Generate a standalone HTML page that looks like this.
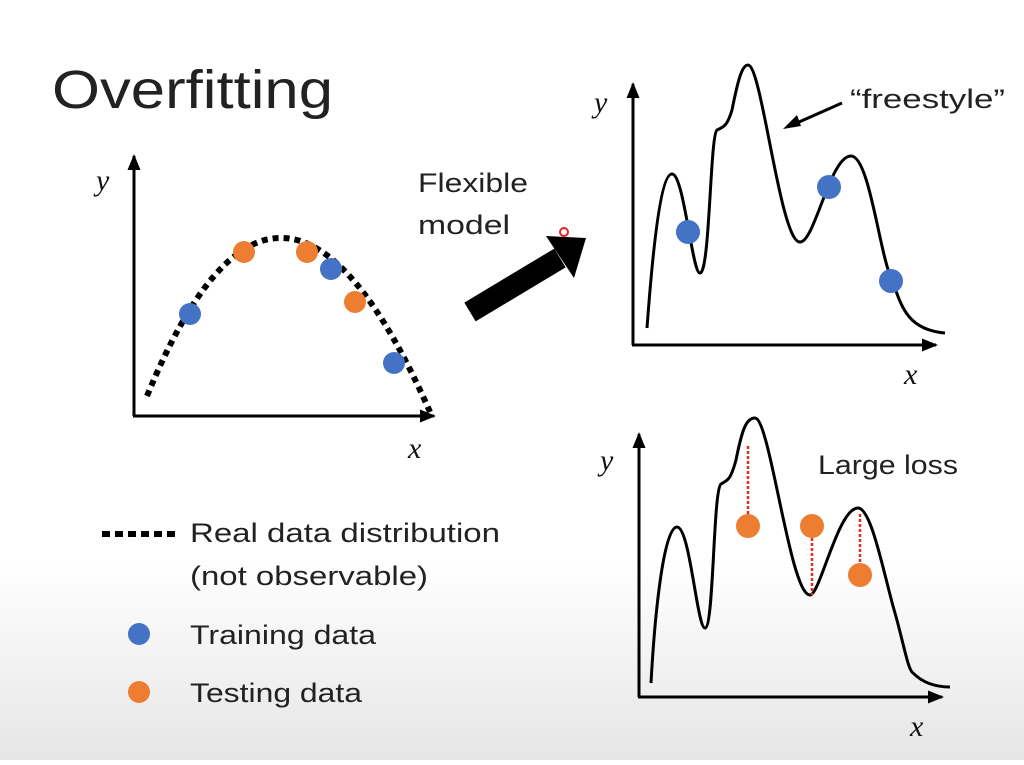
<!DOCTYPE html>
<html><head><style>
body{margin:0;width:1024px;height:760px;overflow:hidden;background:linear-gradient(#fff 0,#fff 560px,#e6e6e6 760px);font-family:"Liberation Sans",sans-serif}
</style></head><body>
<svg width="1024" height="760" viewBox="0 0 1024 760">
<defs><marker id="a" markerUnits="userSpaceOnUse" markerWidth="16" markerHeight="13" refX="14" refY="6.5" orient="auto"><path d="M0,0 L16,6.5 L0,13 z" fill="#000"/></marker></defs>
<text x="52" y="108" font-size="54" fill="#222" textLength="281" lengthAdjust="spacingAndGlyphs">Overfitting</text>
<g stroke="#000" stroke-width="3" fill="none">
<line x1="134" y1="416" x2="134" y2="156" marker-end="url(#a)"/>
<line x1="133" y1="416" x2="434" y2="416" marker-end="url(#a)"/>
<path d="M147,396 Q280,72 430,412" stroke-width="6" stroke-dasharray="6,5"/>
<line x1="633" y1="345" x2="633" y2="84" marker-end="url(#a)"/>
<line x1="632" y1="345" x2="936" y2="345" marker-end="url(#a)"/>
<path d="M647,328 C652,260 660,174 672,174 C684,174 692,273 700,273 C710,273 710,135 717,130 C723,127 727,127 732,110 C738,80 742,65 748,65 C762,65 780,242 800,242 C815,242 830,156 851,156 C870,156 880,260 893,282 C902,310 910,330 945,333"/>
<line x1="639" y1="697" x2="639" y2="434" marker-end="url(#a)"/>
<line x1="638" y1="697" x2="942" y2="697" marker-end="url(#a)"/>
<path d="M651,683 C655,610 664,527 677,527 C690,527 697,628 705,628 C714,628 713,490 721,484 C727,480 730,482 736,460 C742,430 746,418 755,418 C770,418 790,595 810,595 C820,595 838,508 858,508 C872,508 885,580 895,613 C904,645 908,670 913,673 C925,685 940,687 950,687"/>
<line x1="470" y1="312" x2="560" y2="258" stroke-width="22"/>
<line x1="790" y1="126" x2="842" y2="103" stroke-width="3"/>
</g>
<path d="M546,236 L586,238 L574,278 z" fill="#000"/>
<path d="M783,129 L797,115 L801,126 z" fill="#000"/>
<circle cx="564" cy="232" r="4" fill="none" stroke="#e22" stroke-width="2"/>
<g stroke="#e03020" stroke-width="2.5" stroke-dasharray="3,2">
<line x1="748" y1="446" x2="748" y2="514"/><line x1="812" y1="538" x2="812" y2="595"/><line x1="860" y1="514" x2="860" y2="563"/>
</g>
<g fill="#4472c4"><circle cx="190" cy="314" r="11"/><circle cx="331" cy="269" r="11"/><circle cx="394" cy="363" r="11"/>
<circle cx="688" cy="232" r="12"/><circle cx="829" cy="187" r="12"/><circle cx="891" cy="281" r="12"/><circle cx="139" cy="634" r="11"/></g>
<g fill="#ed7d31"><circle cx="244" cy="252" r="11"/><circle cx="307" cy="252" r="11"/><circle cx="355" cy="302" r="11"/>
<circle cx="748" cy="526" r="12"/><circle cx="812" cy="526" r="12"/><circle cx="860" cy="575" r="12"/><circle cx="139" cy="692" r="11"/></g>
<line x1="102" y1="534" x2="176" y2="534" stroke="#000" stroke-width="6" stroke-dasharray="8,5"/>
<g font-family="Liberation Serif,serif" font-style="italic" font-size="30" fill="#111">
<text x="96" y="190">y</text><text x="408" y="458">x</text><text x="594" y="112">y</text><text x="904" y="384">x</text><text x="600" y="470">y</text><text x="910" y="736">x</text></g>
<g font-size="27" fill="#222">
<text x="418" y="192" textLength="110" lengthAdjust="spacingAndGlyphs">Flexible</text><text x="418" y="234" textLength="92" lengthAdjust="spacingAndGlyphs">model</text>
<text x="850" y="108" textLength="155" lengthAdjust="spacingAndGlyphs">“freestyle”</text><text x="818" y="474" textLength="140" lengthAdjust="spacingAndGlyphs">Large loss</text>
<text x="190" y="542" textLength="310" lengthAdjust="spacingAndGlyphs">Real data distribution</text><text x="190" y="585" textLength="238" lengthAdjust="spacingAndGlyphs">(not observable)</text>
<text x="190" y="644" textLength="186" lengthAdjust="spacingAndGlyphs">Training data</text><text x="190" y="702" textLength="172" lengthAdjust="spacingAndGlyphs">Testing data</text></g>
</svg>
</body></html>
